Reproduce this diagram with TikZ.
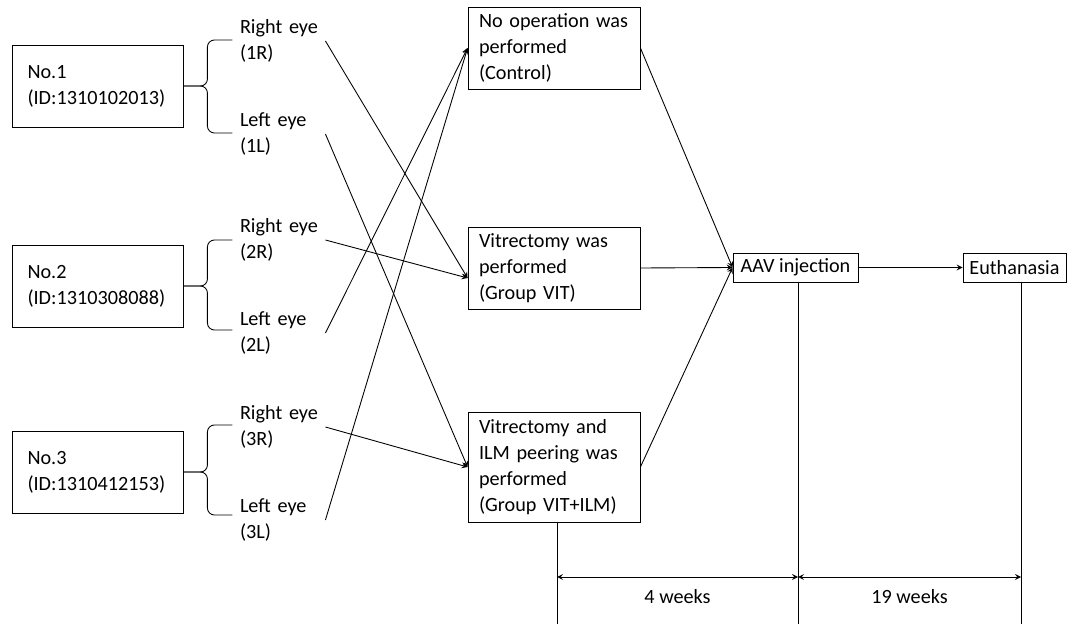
\documentclass[tikz,border=0pt]{standalone}
\usepackage{fontspec}
\setmainfont{Carlito}
\begin{document}
\begin{tikzpicture}[x=0.02cm,y=-0.02cm,line width=0.5pt,>=stealth,
    every node/.style={font=\fontsize{11.5}{14.8}\selectfont},
    animal/.style={draw,align=left,text width=2.8cm,inner xsep=0.31cm,minimum height=1.64cm},
    eye/.style={align=left,text width=1.7cm,inner sep=0pt},
    group/.style={draw,align=left,text width=3cm,inner xsep=0.22cm},
    stage/.style={draw,inner sep=0pt,minimum height=0.58cm},
    eyebrace/.style={rounded corners=4pt}]
  \useasboundingbox (0,0) rectangle (1067,624);
  % animals
  \node[animal] (n1) at (97.5,86) {No.1\\(ID:1310102013)};
  \node[animal] (n2) at (97.5,286) {No.2\\(ID:1310308088)};
  \node[animal] (n3) at (97.5,472) {No.3\\(ID:1310412153)};
  \draw[eyebrace] (n1.east) -- ++(24,0) |- ++(25,-46);
  \draw[eyebrace] (n1.east) -- ++(24,0) |- ++(25,47);
  \draw[eyebrace] (n2.east) -- ++(24,0) |- ++(25,-46);
  \draw[eyebrace] (n2.east) -- ++(24,0) |- ++(25,44);
  \draw[eyebrace] (n3.east) -- ++(24,0) |- ++(25,-47);
  \draw[eyebrace] (n3.east) -- ++(24,0) |- ++(25,43);
  % eyes
  \node[eye] (r1) at (282.5,41) {Right eye\\(1R)};
  \node[eye] (l1) at (282.5,134) {Left eye\\(1L)};
  \node[eye] (r2) at (282.5,240) {Right eye\\(2R)};
  \node[eye] (l2) at (282.5,333) {Left eye\\(2L)};
  \node[eye] (r3) at (282.5,427) {Right eye\\(3R)};
  \node[eye] (l3) at (282.5,520) {Left eye\\(3L)};
  % groups
  \node[group,minimum height=1.64cm] (ctrl) at (554,48) {No operation was\\performed\\(Control)};
  \node[group,minimum height=1.64cm] (vit) at (554,268) {Vitrectomy was\\performed\\(Group VIT)};
  \node[group,minimum height=2.2cm] (ilm) at (554,467) {Vitrectomy and\\ILM peering was\\performed\\(Group VIT+ILM)};
  \node[stage,minimum width=2.5cm] (aav) at (795.5,267.5) {AAV injection};
  \node[stage,minimum width=2.06cm] (euth) at (1014.5,267.5) {Euthanasia};
  % assignment
  \draw[->] (r1.east) -- ([yshift=-0.2cm]vit.west);
  \draw[->] (l1.east) -- (ilm.west);
  \draw[->] (r2.east) -- ([yshift=-0.2cm]vit.west);
  \draw[->] (l2.east) -- (ctrl.west);
  \draw[->] (r3.east) -- (ilm.west);
  \draw[->] (l3.east) -- (ctrl.west);
  \draw[->] (ctrl.east) -- (aav.west);
  \draw[->] (vit.east) -- (aav.west);
  \draw[->] (ilm.east) -- (aav.west);
  \draw[->] (aav) -- (euth);
  % time line
  \coordinate (t0) at (557,624);
  \coordinate (t1) at (798,624);
  \coordinate (t2) at (1021,624);
  \coordinate (d) at (0,577);
  \draw (t0 |- ilm.south) -- (t0);
  \draw (t1 |- aav.south) -- (t1);
  \draw (t2 |- euth.south) -- (t2);
  \draw[<->] (t0 |- d) -- (t1 |- d) node[midway,below=0.12cm] (w4) {4 weeks};
  \draw[<->] (t1 |- d) -- (t2 |- d) node[midway,below=0.12cm] (w19) {19 weeks};
\end{tikzpicture}
\end{document}
